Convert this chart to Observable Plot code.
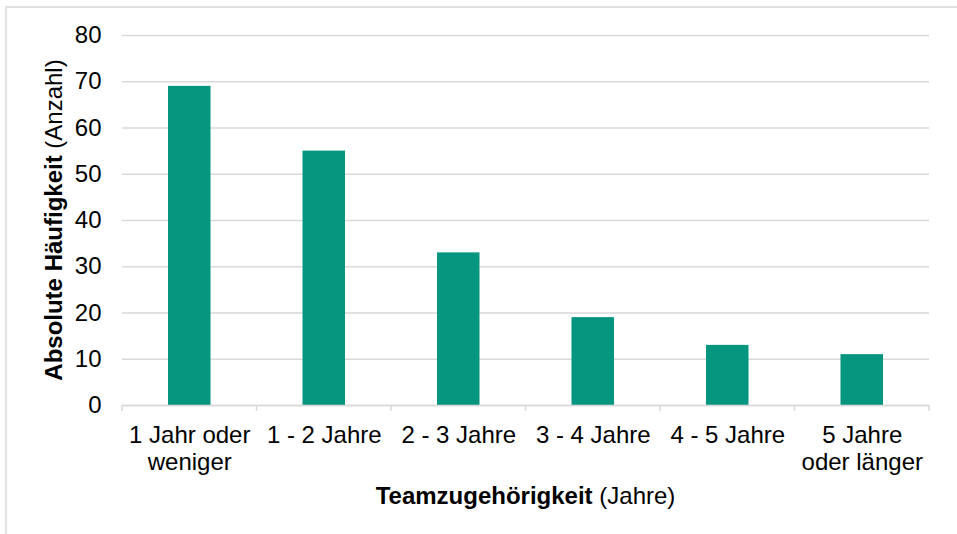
<!DOCTYPE html>
<html>
<head>
<meta charset="utf-8">
<script src="https://cdn.jsdelivr.net/npm/d3@7"></script>
<script src="https://cdn.jsdelivr.net/npm/@observablehq/plot@0.6"></script>
<style>
  html, body { margin: 0; padding: 0; background: #fff; overflow: hidden; }
  #wrap { position: relative; width: 957px; height: 534px; }
  #frame { position: absolute; left: 5px; top: 6px; width: 1000px; height: 600px; border: 2px solid #e2e2e2; box-sizing: border-box; pointer-events: none; }
  svg { font-family: "Liberation Sans", Arial, sans-serif; }
</style>
</head>
<body>
<div id="wrap"><div id="frame"></div></div>
<script>
const categories = ["1 Jahr oder weniger", "1 - 2 Jahre", "2 - 3 Jahre", "3 - 4 Jahre", "4 - 5 Jahre", "5 Jahre oder länger"];
const tickLabels = ["1 Jahr oder\nweniger", "1 - 2 Jahre", "2 - 3 Jahre", "3 - 4 Jahre", "4 - 5 Jahre", "5 Jahre\noder länger"];
const values = [69, 55, 33, 19, 13, 11];
const yTicks = [0, 10, 20, 30, 40, 50, 60, 70, 80];
const yTitleBold = "Absolute Häufigkeit";
const yTitleRest = " (Anzahl)";
const xTitleBold = "Teamzugehörigkeit";
const xTitleRest = " (Jahre)";

const data = categories.map((c, i) => ({category: c, value: values[i]}));
const labelOf = new Map(categories.map((c, i) => [c, tickLabels[i]]));

const W = 957, H = 534;
const mLeft = 122, mRight = 28, mTop = 35, mBottom = 129;
const FS = 24;

const plot = Plot.plot({
  width: W,
  height: H,
  marginLeft: mLeft,
  marginRight: mRight,
  marginTop: mTop,
  marginBottom: mBottom,
  style: {fontFamily: "'Liberation Sans', Arial, sans-serif", fontSize: FS + "px", color: "#000", background: "transparent"},
  x: {domain: categories, padding: 0, round: false, label: null},
  y: {domain: [0, 80], label: null},
  marks: [
    Plot.gridY(yTicks, {stroke: "#d9d9d9", strokeOpacity: 1, strokeWidth: 1.5}),
    Plot.barY(data, {x: "category", y: "value", fill: "#069680", insetLeft: 46, insetRight: 46}),
    Plot.ruleY([0], {stroke: "#d9d9d9", strokeWidth: 1.5}),
    Plot.axisY(yTicks, {tickSize: 0, tickPadding: 21, fontSize: FS, fill: "#000", label: null}),
    Plot.axisX({tickSize: 0, tickPadding: 19, fontSize: FS, fill: "#000", lineHeight: 1.1, tickFormat: d => labelOf.get(d), label: null})
  ]
});

document.getElementById("wrap").appendChild(plot);

const svg = d3.select(plot);
const xs = plot.scale("x");
const ys = plot.scale("y");
const y0 = ys.apply(0);
const bounds = categories.map(c => xs.apply(c)).concat([xs.apply(categories[categories.length - 1]) + xs.bandwidth]);
svg.append("g")
  .selectAll("line")
  .data(bounds)
  .join("line")
  .attr("x1", d => d).attr("x2", d => d)
  .attr("y1", y0).attr("y2", y0 + 6)
  .attr("stroke", "#d9d9d9").attr("stroke-width", 1.5);

const yMid = (ys.apply(0) + ys.apply(80)) / 2;
const yt = svg.append("text")
  .attr("transform", `translate(62,${yMid}) rotate(-90)`)
  .attr("text-anchor", "middle")
  .attr("font-size", FS)
  .attr("fill", "#000");
yt.append("tspan").attr("font-weight", "bold").text(yTitleBold);
yt.append("tspan").text(yTitleRest);

const xMid = (xs.apply(categories[0]) + bounds[bounds.length - 1]) / 2;
const xt = svg.append("text")
  .attr("x", xMid).attr("y", 504)
  .attr("text-anchor", "middle")
  .attr("font-size", FS)
  .attr("fill", "#000");
xt.append("tspan").attr("font-weight", "bold").text(xTitleBold);
xt.append("tspan").text(xTitleRest);
</script>
</body>
</html>
